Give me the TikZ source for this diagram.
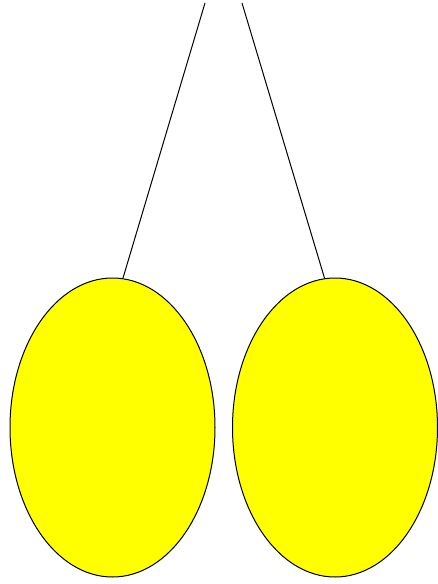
\documentclass[tikz,border=0pt]{standalone}
\usetikzlibrary{shapes.geometric}
\definecolor{puryellow}{RGB}{255,255,0}
\begin{document}
\begin{tikzpicture}[x=1pt,y=-1pt,
  ball/.style={ellipse,draw=black,fill=puryellow,line width=1pt,minimum width=205pt,minimum height=299pt,inner sep=0pt},
  string/.style={draw=black,line width=1pt}]
\fill[white] (0,0) rectangle (438,584);
\useasboundingbox (0,0) rectangle (438,584);
\node[ball] (balL) at (112.5,427.5) {};
\node[ball] (balR) at (335,427.5) {};
\coordinate (topL) at (205,3);
\coordinate (topR) at (242,3);
\draw[string] (topL) -- (balL.86);
\draw[string] (topR) -- (balR.94);
\end{tikzpicture}
\end{document}
